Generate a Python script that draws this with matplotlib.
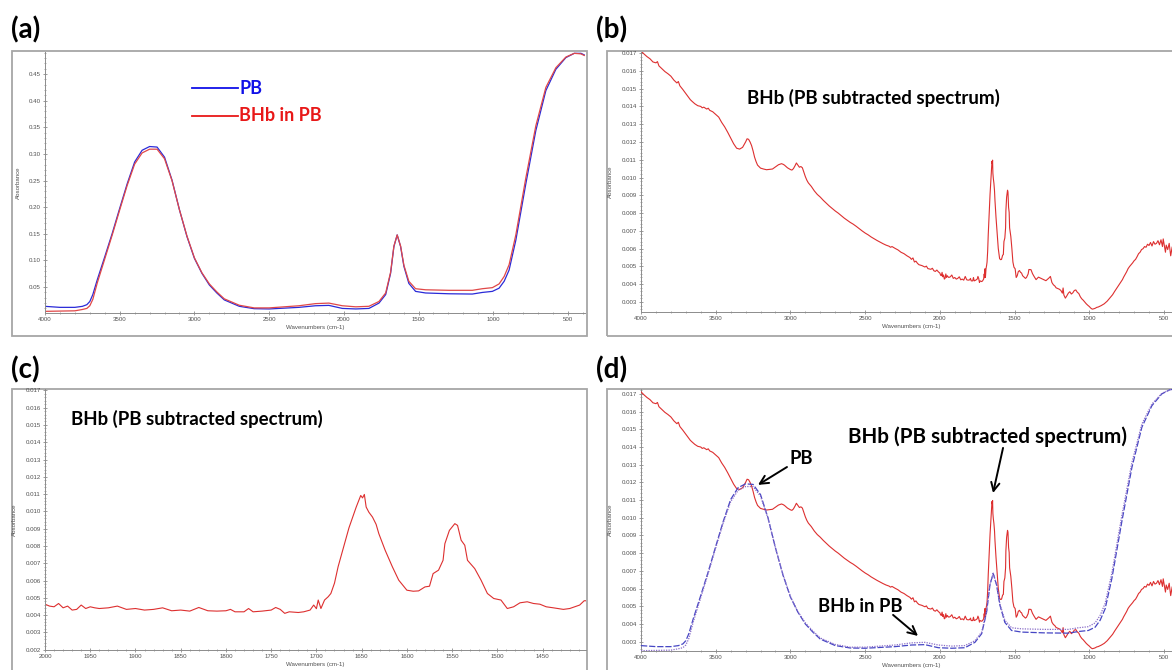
import matplotlib
matplotlib.use("Agg")
import matplotlib.pyplot as plt
from matplotlib.patches import Rectangle
from matplotlib.ticker import MultipleLocator, AutoMinorLocator, FormatStrFormatter

W, H = 1172, 670

# ---- raw spectra of the phosphate buffer (PB) and of BHb dissolved in PB ----
a_wn = [4000, 3900, 3800, 3750, 3720, 3700, 3680, 3650, 3600, 3550,
        3500, 3450, 3400, 3350, 3300, 3250, 3200, 3150, 3100, 3050,
        3000, 2950, 2900, 2850, 2800, 2700, 2600, 2500, 2300, 2190,
        2100, 2010, 1920, 1832, 1765, 1720, 1687, 1665, 1643, 1620,
        1598, 1565, 1520, 1453, 1296, 1140, 1073, 1006, 961, 927,
        894, 849, 782, 715, 648, 581, 514, 458, 413, 391]
pb_abs = [0.0139, 0.012, 0.012, 0.0139, 0.017, 0.023, 0.036, 0.064, 0.107, 0.151,
          0.198, 0.244, 0.285, 0.307, 0.314, 0.313, 0.294, 0.251, 0.195, 0.145,
          0.104, 0.076, 0.054, 0.039, 0.026, 0.014, 0.0095, 0.009, 0.012, 0.015,
          0.0157, 0.010, 0.009, 0.010, 0.020, 0.036, 0.076, 0.126, 0.148, 0.126,
          0.089, 0.057, 0.042, 0.039, 0.0375, 0.037, 0.040, 0.042, 0.048, 0.061,
          0.082, 0.138, 0.244, 0.344, 0.419, 0.459, 0.481, 0.489, 0.489, 0.486]
bhb_in_pb_abs = [0.0045, 0.005, 0.0055, 0.008, 0.010, 0.015, 0.027, 0.058, 0.103, 0.148,
                 0.195, 0.241, 0.281, 0.302, 0.309, 0.309, 0.291, 0.250, 0.195, 0.146,
                 0.105, 0.077, 0.056, 0.041, 0.028, 0.016, 0.011, 0.011, 0.015, 0.019,
                 0.020, 0.015, 0.013, 0.014, 0.023, 0.039, 0.078, 0.127, 0.148, 0.127,
                 0.091, 0.061, 0.047, 0.045, 0.044, 0.044, 0.047, 0.049, 0.056, 0.070,
                 0.092, 0.148, 0.255, 0.353, 0.425, 0.462, 0.482, 0.489, 0.488, 0.485]

# ---- BHb spectrum after subtraction of the PB spectrum (wavenumber, absorbance) ----
sub_points = [
    (4000, 0.01712), (3980, 0.01695), (3960, 0.01680), (3940, 0.01668), (3920, 0.01650),
    (3900, 0.01645), (3890, 0.01652), (3880, 0.01628), (3860, 0.01612), (3840, 0.01596),
    (3820, 0.01584), (3800, 0.01570), (3780, 0.01548), (3760, 0.01532), (3750, 0.01540),
    (3740, 0.01516), (3720, 0.01495), (3700, 0.01472), (3680, 0.01450), (3670, 0.01438),
    (3660, 0.01430), (3640, 0.01415), (3620, 0.01404), (3600, 0.01400), (3590, 0.01392),
    (3580, 0.01396), (3560, 0.01385), (3550, 0.01390), (3540, 0.01378), (3520, 0.01370),
    (3500, 0.01355), (3480, 0.01340), (3460, 0.01310), (3440, 0.01285), (3420, 0.01255),
    (3400, 0.01222), (3380, 0.01190), (3360, 0.01165), (3340, 0.01160), (3320, 0.01170),
    (3300, 0.01200), (3290, 0.01218), (3280, 0.01215), (3270, 0.01200), (3260, 0.01180),
    (3250, 0.01150), (3240, 0.01115), (3230, 0.01090), (3220, 0.01070), (3200, 0.01053),
    (3180, 0.01048), (3160, 0.01044), (3140, 0.01046), (3120, 0.01048), (3100, 0.01060),
    (3080, 0.01072), (3060, 0.01078), (3050, 0.01075), (3040, 0.01070), (3020, 0.01055),
    (3000, 0.01045), (2990, 0.01042), (2980, 0.01050), (2970, 0.01065), (2960, 0.01082),
    (2950, 0.01070), (2940, 0.01058), (2930, 0.01062), (2920, 0.01055), (2910, 0.01030),
    (2900, 0.01005), (2890, 0.00985), (2880, 0.00970), (2860, 0.00950), (2840, 0.00925),
    (2820, 0.00905), (2800, 0.00890), (2780, 0.00872), (2760, 0.00856), (2740, 0.00840),
    (2720, 0.00826), (2700, 0.00812), (2680, 0.00800), (2660, 0.00786), (2640, 0.00772),
    (2620, 0.00760), (2600, 0.00748), (2580, 0.00738), (2560, 0.00726), (2540, 0.00713),
    (2520, 0.00700), (2500, 0.00688), (2480, 0.00678), (2460, 0.00666), (2440, 0.00656),
    (2420, 0.00646), (2400, 0.00637), (2380, 0.00628), (2360, 0.00620), (2340, 0.00614),
    (2330, 0.00608), (2320, 0.00612), (2300, 0.00602), (2280, 0.00593), (2260, 0.00580),
    (2240, 0.00572), (2220, 0.00560), (2200, 0.00550), (2190, 0.00540), (2180, 0.00548),
    (2170, 0.00525), (2160, 0.00530), (2150, 0.00518), (2140, 0.00510), (2120, 0.00505),
    (2100, 0.00497), (2090, 0.00502), (2080, 0.00488), (2060, 0.00484), (2050, 0.00490),
    (2040, 0.00476), (2030, 0.00472), (2020, 0.00480), (2010, 0.00470),
    (2000, 0.00463), (1995, 0.00452), (1990, 0.00448), (1985, 0.00467), (1980, 0.00442),
    (1975, 0.00452), (1970, 0.00429), (1965, 0.00433), (1960, 0.00458), (1955, 0.00438),
    (1950, 0.00448), (1945, 0.00442), (1940, 0.00438), (1930, 0.00442), (1920, 0.00452),
    (1910, 0.00433), (1900, 0.00438), (1890, 0.00429), (1880, 0.00433), (1870, 0.00442),
    (1860, 0.00425), (1850, 0.00429), (1840, 0.00423), (1830, 0.00444), (1820, 0.00425),
    (1810, 0.00423), (1800, 0.00425), (1795, 0.00433), (1790, 0.00419), (1780, 0.00419),
    (1775, 0.00438), (1770, 0.00419), (1760, 0.00423), (1750, 0.00429), (1745, 0.00444),
    (1740, 0.00433), (1735, 0.00410), (1730, 0.00419), (1720, 0.00415), (1714, 0.00419),
    (1707, 0.00429), (1703, 0.00458), (1700, 0.00437), (1698, 0.00487), (1695, 0.00438),
    (1691, 0.00487), (1687, 0.00506), (1684, 0.00525), (1680, 0.00585), (1676, 0.00680),
    (1672, 0.00755), (1668, 0.00830), (1664, 0.00905), (1660, 0.00965), (1656, 0.01025),
    (1653, 0.01065), (1651, 0.01092), (1649, 0.01078), (1647, 0.01098), (1645, 0.01025),
    (1642, 0.00995), (1638, 0.00967), (1634, 0.00925), (1631, 0.00871), (1624, 0.00775),
    (1616, 0.00679), (1609, 0.00602), (1600, 0.00544), (1593, 0.00538), (1587, 0.00540),
    (1580, 0.00563), (1575, 0.00567), (1571, 0.00640), (1565, 0.00660), (1560, 0.00717),
    (1558, 0.00813), (1553, 0.00890), (1547, 0.00929), (1544, 0.00919), (1540, 0.00833),
    (1536, 0.00804), (1533, 0.00717), (1525, 0.00669), (1518, 0.00602), (1511, 0.00525),
    (1504, 0.00496), (1496, 0.00487), (1489, 0.00438), (1482, 0.00448), (1475, 0.00471),
    (1467, 0.00477), (1460, 0.00467), (1453, 0.00463), (1446, 0.00448), (1438, 0.00442),
    (1427, 0.00433), (1420, 0.00438), (1409, 0.00458), (1404, 0.00483),
    (1390, 0.00482), (1380, 0.00460), (1370, 0.00445), (1356, 0.00426), (1340, 0.00440),
    (1320, 0.00432), (1311, 0.00428), (1290, 0.00420), (1270, 0.00435), (1260, 0.00444),
    (1250, 0.00410), (1240, 0.00397), (1230, 0.00390), (1222, 0.00380), (1200, 0.00372),
    (1190, 0.00365), (1180, 0.00350), (1175, 0.00379), (1170, 0.00340), (1160, 0.00322),
    (1150, 0.00335), (1140, 0.00350), (1130, 0.00358), (1120, 0.00345), (1110, 0.00352),
    (1100, 0.00365), (1090, 0.00368), (1080, 0.00355), (1070, 0.00348), (1060, 0.00330),
    (1050, 0.00318), (1040, 0.00310), (1030, 0.00300), (1020, 0.00290), (1010, 0.00282),
    (1000, 0.00275), (990, 0.00266), (980, 0.00260), (970, 0.00262), (960, 0.00265),
    (950, 0.00270), (940, 0.00272), (920, 0.00280), (900, 0.00290), (880, 0.00305),
    (860, 0.00325), (844, 0.00341), (830, 0.00360), (810, 0.00385), (790, 0.00410),
    (778, 0.00426), (770, 0.00440), (760, 0.00455), (750, 0.00470), (740, 0.00488),
    (730, 0.00500), (720, 0.00510), (710, 0.00520), (700, 0.00532), (690, 0.00540),
    (680, 0.00555), (670, 0.00572), (660, 0.00580), (650, 0.00595), (640, 0.00600),
    (630, 0.00612), (620, 0.00608), (610, 0.00625), (600, 0.00618), (590, 0.00635),
    (580, 0.00615), (570, 0.00640), (560, 0.00625), (550, 0.00630), (540, 0.00645),
    (530, 0.00622), (520, 0.00650), (510, 0.00612), (505, 0.00655), (500, 0.00630),
    (490, 0.00580), (485, 0.00620), (475, 0.00595), (465, 0.00630), (455, 0.00560),
    (445, 0.00610), (435, 0.00500), (425, 0.00585), (410, 0.00550), (395, 0.00520),
    (386, 0.00500),
]
sub_wn = [p[0] for p in sub_points]
sub_abs = [p[1] for p in sub_points]

RED = "#dd2f2f"
BLUE = "#2a2ad8"
GRID_GREY = "#8c8c8c"
LABEL_FONT = ["Lato", "DejaVu Sans"]
TICK_FONT = ["Liberation Sans", "DejaVu Sans"]

fig = plt.figure(figsize=(W / 100, H / 100), dpi=100)
fig.patch.set_facecolor("white")


def px_axes(left, top, right, bottom):
    return fig.add_axes([left / W, 1 - bottom / H, (right - left) / W, (bottom - top) / H])


def frame(left, top, right, bottom):
    fig.add_artist(Rectangle((left / W, 1 - bottom / H), (right - left) / W, (bottom - top) / H,
                             transform=fig.transFigure, fill=False,
                             edgecolor="#a6a6a6", linewidth=1.3, zorder=0))


def style(ax, xmajor, xminor, ymajor, yfmt, xlim, ylim):
    ax.set_xlim(*xlim)
    ax.set_ylim(*ylim)
    for s in ("top", "right"):
        ax.spines[s].set_visible(False)
    for s in ("left", "bottom"):
        ax.spines[s].set_color(GRID_GREY)
        ax.spines[s].set_linewidth(0.7)
    ax.xaxis.set_major_locator(MultipleLocator(xmajor))
    ax.xaxis.set_minor_locator(MultipleLocator(xminor))
    ax.yaxis.set_major_locator(MultipleLocator(ymajor))
    ax.yaxis.set_minor_locator(AutoMinorLocator(5))
    ax.yaxis.set_major_formatter(FormatStrFormatter(yfmt))
    ax.xaxis.set_major_formatter(FormatStrFormatter("%d"))
    ax.tick_params(which="major", direction="inout", length=3, width=0.6,
                   colors=GRID_GREY, labelcolor="#505050", labelsize=4.4, pad=1.5)
    ax.tick_params(which="minor", direction="inout", length=1.6, width=0.5, colors=GRID_GREY)
    for lab in ax.get_xticklabels() + ax.get_yticklabels():
        lab.set_family(TICK_FONT)
    ax.set_xlabel("Wavenumbers (cm-1)", fontsize=4.4, color="#505050", labelpad=2,
                  family=TICK_FONT)
    ax.set_ylabel("Absorbance", fontsize=4.4, color="#505050", labelpad=6, family=TICK_FONT)
    ax.patch.set_alpha(0)


def panel_label(x, y, txt):
    fig.text(x / W, 1 - y / H, txt, fontsize=20, fontweight="bold", family=LABEL_FONT,
             ha="left", va="center", color="black")


def note(ax, x, y, txt, size):
    ax.text(x, y, txt, fontsize=size, fontweight="bold", family=LABEL_FONT,
            ha="center", va="center", color="black", zorder=5)


FULL_X = (4000, 386)

# ---- (a) raw spectra ----
frame(12, 51, 587, 336)
ax_a = px_axes(45, 52, 585, 313)
ax_a.plot(a_wn, pb_abs, color=BLUE, lw=0.9)
ax_a.plot(a_wn, bhb_in_pb_abs, color="#e04848", lw=0.9)
style(ax_a, 500, 100, 0.05, "%.2f", FULL_X, (0.0014, 0.4915))
ax_a.set_yticks([0.05, 0.10, 0.15, 0.20, 0.25, 0.30, 0.35, 0.40, 0.45])
for lab in ax_a.get_yticklabels():
    lab.set_family(TICK_FONT)
ax_a.plot([0.272, 0.357], [0.862, 0.862], color="#1010e8", lw=1.3, transform=ax_a.transAxes)
ax_a.plot([0.272, 0.357], [0.755, 0.755], color="#e81818", lw=1.3, transform=ax_a.transAxes)
ax_a.text(0.360, 0.862, "PB", color="#1010e8", fontsize=13, fontweight="bold",
          family=LABEL_FONT, va="center", ha="left", transform=ax_a.transAxes)
ax_a.text(0.360, 0.755, "BHb in PB", color="#e81818", fontsize=13, fontweight="bold",
          family=LABEL_FONT, va="center", ha="left", transform=ax_a.transAxes)
panel_label(11, 30, "(a)")

# ---- (b) PB-subtracted spectrum, full range ----
frame(607, 51, 1200, 336)
ax_b = px_axes(641, 52, 1181, 312)
ax_b.plot(sub_wn, sub_abs, color=RED, lw=0.8)
style(ax_b, 500, 100, 0.001, "%.3f", FULL_X, (0.00244, 0.01706))
note(ax_b, 2447, 0.01447, "BHb (PB subtracted spectrum)", 13.5)
panel_label(596, 30, "(b)")

# ---- (c) PB-subtracted spectrum, amide region ----
frame(12, 389, 587, 700)
ax_c = px_axes(45, 389, 586, 650)
ax_c.plot(sub_wn, sub_abs, color=RED, lw=0.8)
style(ax_c, 50, 10, 0.001, "%.3f", (2000, 1402), (0.00198, 0.01708))
note(ax_c, 1832, 0.01535, "BHb (PB subtracted spectrum)", 13.4)
panel_label(11, 370, "(c)")

# ---- (d) overlay: subtracted spectrum with the rescaled raw spectra ----
frame(607, 389, 1200, 700)
ax_d = px_axes(641, 389, 1181, 651)
ax_d.plot(sub_wn, sub_abs, color=RED, lw=0.8, zorder=3)
style(ax_d, 500, 100, 0.001, "%.3f", FULL_X, (0.00247, 0.01728))
ax_d2 = ax_d.twinx()
ax_d2.plot(a_wn, pb_abs, color="#4646c4", lw=0.9, ls=(0, (5, 1.5)))
ax_d2.plot(a_wn, bhb_in_pb_abs, color="#8a6ec8", lw=0.9, ls=(0, (1, 1)))
ax_d2.set_ylim(0.0039, 0.490)
ax_d2.set_xlim(*FULL_X)
ax_d2.axis("off")

arrow = dict(arrowstyle="->", color="black", lw=1.4, mutation_scale=15, shrinkA=0, shrinkB=0)
note(ax_d, 2929, 0.01333, "PB", 13.3)
ax_d.annotate("", xy=(3217, 0.01186), xytext=(3023, 0.01287), arrowprops=arrow, zorder=5)
note(ax_d, 1684, 0.01457, "BHb (PB subtracted spectrum)", 14.9)
ax_d.annotate("", xy=(1644, 0.01140), xytext=(1577, 0.01395), arrowprops=arrow, zorder=5)
note(ax_d, 2534, 0.00496, "BHb in PB", 13.3)
ax_d.annotate("", xy=(2146, 0.00332), xytext=(2313, 0.00451), arrowprops=arrow, zorder=5)
panel_label(596, 370, "(d)")

fig.savefig("out.png", dpi=100, facecolor="white")
